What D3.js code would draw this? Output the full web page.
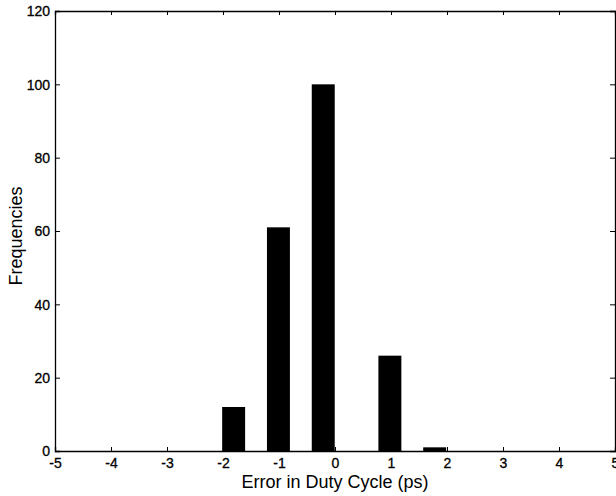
<!DOCTYPE html>
<html>
<head>
<meta charset="utf-8">
<script src="https://cdn.jsdelivr.net/npm/d3@7"></script>
<style>
  body { margin: 0; background: #fff; }
  text { font-family: "Liberation Sans", Arial, sans-serif; fill: #000; }
</style>
</head>
<body>
<div id="chart"></div>
<script>
// histogram bins (centres in ps) and counts
const binCentres = [-1.81, -1.01, -0.21, 0.98, 1.78];
const counts = [12, 61, 100, 26, 1];
const binWidth = 0.41;
const xTicks = [-5, -4, -3, -2, -1, 0, 1, 2, 3, 4, 5];
const yTicks = [0, 20, 40, 60, 80, 100, 120];

const width = 616, height = 496;
let margin = {top: 11, right: 1, bottom: 45, left: 55};

let svg = d3.select('#chart')
    .append('svg')
    .attr('width', width)
    .attr('height', height);

let x = d3.scaleLinear().domain([-5, 5]).range([margin.left, width - margin.right]);
let y = d3.scaleLinear().domain([0, 120]).range([height - margin.bottom, margin.top]);

// bars
svg.append('g')
    .selectAll('rect')
    .data(binCentres)
    .enter()
    .append('rect')
    .attr('x', d => x(d - binWidth / 2))
    .attr('width', d => x(d + binWidth / 2) - x(d - binWidth / 2))
    .attr('y', (d, i) => y(counts[i]))
    .attr('height', (d, i) => y(0) - y(counts[i]))
    .attr('fill', '#000');

// bottom axis, ticks inward
let xAxis = svg.append('g')
    .attr('transform', `translate(0,${y(0)})`)
    .call(d3.axisBottom(x).tickValues(xTicks).tickSize(-4).tickPadding(7).tickFormat(d => String(d)));

// top axis
svg.append('g')
    .attr('transform', `translate(0,${y(120)})`)
    .call(d3.axisTop(x).tickValues(xTicks).tickSize(-4).tickFormat(''));

// left axis
let yAxis = svg.append('g')
    .attr('transform', `translate(${x(-5)},0)`)
    .call(d3.axisLeft(y).tickValues(yTicks).tickSize(-5).tickPadding(5));

// right axis
svg.append('g')
    .attr('transform', `translate(${x(5)},0)`)
    .call(d3.axisRight(y).tickValues(yTicks).tickSize(-5).tickFormat(''));

svg.selectAll('.tick text')
    .attr('font-size', 14)
    .attr('stroke', '#000')
    .attr('stroke-width', 0.3)
    .style('font-family', '"Liberation Sans", Arial, sans-serif');
yAxis.selectAll('.tick text').attr('dy', '0.35em');

svg.selectAll('.domain').attr('stroke', '#000').attr('stroke-width', 1.3);
svg.selectAll('.tick line').attr('stroke', '#000');

// axis titles
svg.append('text')
    .attr('x', x(0))
    .attr('y', 488)
    .attr('text-anchor', 'middle')
    .attr('font-size', 18)
    .text('Error in Duty Cycle (ps)');

svg.append('text')
    .attr('transform', `translate(22,236) rotate(-90)`)
    .attr('text-anchor', 'middle')
    .attr('font-size', 18)
    .text('Frequencies');
</script>
</body>
</html>
